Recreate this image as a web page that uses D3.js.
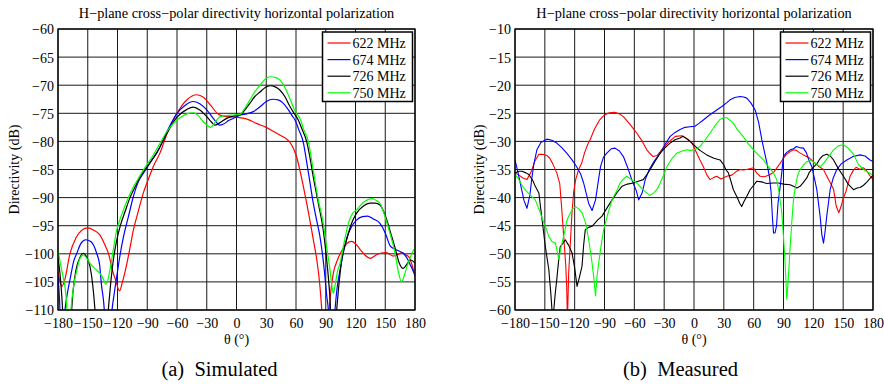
<!DOCTYPE html>
<html>
<head>
<meta charset="utf-8">
<script src="https://cdn.jsdelivr.net/npm/d3@7/dist/d3.min.js"></script>
<style>
  html, body { margin: 0; padding: 0; background: #fff; }
  svg { display: block; }
  text { font-family: "Liberation Serif", "Times New Roman", serif; fill: #000; }
</style>
</head>
<body>
<svg id="fig" width="884" height="384"></svg>
<script>
// ---- shared axis data ----
const angleTicks = [-180, -150, -120, -90, -60, -30, 0, 30, 60, 90, 120, 150, 180];
const simDbTicks = [-110, -105, -100, -95, -90, -85, -80, -75, -70, -65, -60];
const measDbTicks = [-60, -55, -50, -45, -40, -35, -30, -25, -20, -15, -10];
const freqLabels = ["622 MHz", "674 MHz", "726 MHz", "750 MHz"];
const seriesColors = ["#ff0000", "#0000ff", "#000000", "#00ff00"];

// ---- simulated directivity, [theta (deg), dB] ----
const sim622 = [[-180,-103.2],[-178,-105],[-176,-105.8],[-173,-104.5],[-168,-100],[-162,-97.2],[-156,-95.8],[-150,-95.4],[-144,-95.8],[-138,-96.6],[-133,-98.3],[-129,-100],[-125,-103],[-122,-104.6],[-118,-106.6],[-115,-105],[-112,-102.9],[-108,-99.5],[-104,-95.8],[-99,-92.4],[-94,-89.2],[-89,-86.8],[-84,-84.5],[-77,-82],[-70,-78.6],[-60,-75],[-50,-72.6],[-40,-71.7],[-33,-72.2],[-26,-73.6],[-18,-75.2],[-10,-75.6],[0,-75.7],[10,-76],[20,-76.8],[30,-77.5],[37,-78.2],[44,-78.9],[50,-79.5],[54,-80.2],[58,-81.5],[61,-83],[64,-85.2],[67.4,-88],[71,-91.2],[74,-94],[78,-98],[81,-101.1],[84,-105.5],[86,-110],[88,-116],[90,-120],[92,-115],[93.5,-110],[95.5,-106],[97.6,-103.5],[102,-101],[107,-99.2],[111,-98.2],[116,-97.8],[120,-98.2],[125,-99.3],[130,-100.3],[135,-100.8],[140,-100.3],[145,-99.9],[151,-99.8],[158,-100.4],[163,-100.1],[167,-99.8],[171,-100.2],[174,-100.6],[177,-102],[180,-104]];
const sim674 = [[-180,-104],[-178.5,-108],[-177,-114],[-175,-114],[-173,-110],[-170,-106.5],[-168,-104.7],[-164,-101.2],[-161,-99.9],[-157,-98.2],[-152,-97.5],[-147,-97.8],[-141,-99.9],[-138,-102],[-136,-105.8],[-134,-108.5],[-132.5,-112],[-130,-118],[-127,-114],[-126,-111],[-123.5,-107.3],[-120.8,-104.1],[-117.5,-100.3],[-114,-97],[-109,-93.4],[-104,-89.8],[-99,-87.2],[-94,-85.7],[-86,-83.5],[-77,-80.9],[-70,-78.2],[-60,-75],[-52,-73.6],[-44,-72.9],[-37,-73.3],[-30,-74.4],[-23,-76],[-17,-77.1],[-13,-76.9],[-8,-76.3],[-2,-75.8],[4,-75.3],[10,-75.1],[17,-74.7],[24,-73.8],[30,-72.9],[37,-72.5],[42,-72.6],[47,-73.2],[52,-74.3],[56,-75.4],[59,-76.2],[63,-78],[67.4,-80.2],[70.7,-83.6],[74,-87.2],[77.4,-91],[80.8,-94],[84.2,-97],[87,-100.5],[89.2,-104.1],[91,-107.5],[92.6,-110],[94.5,-118],[97,-116],[99.3,-110],[101.5,-106],[104.4,-102.9],[108,-99.6],[112.8,-96.4],[116,-95.2],[121,-94],[127,-93.4],[132,-93.3],[138,-93.8],[144.7,-94.6],[150,-96.3],[155,-98.6],[160,-99.2],[164,-99.5],[168,-99.9],[172,-100.8],[175,-101.9],[178,-103],[180,-103.8]];
const sim726 = [[-180,-100.8],[-178,-103.5],[-176,-108],[-174,-114],[-170,-118],[-167,-112],[-165,-107],[-162,-103],[-158,-100.7],[-154.5,-99.9],[-151,-100.6],[-147.7,-102.3],[-145,-105.5],[-142.7,-110],[-140,-118],[-133,-118],[-129.3,-110],[-127,-105.5],[-124.2,-101.1],[-121,-97.8],[-117.5,-95.2],[-112,-92.3],[-107.4,-90],[-102,-88],[-97.3,-86.3],[-89,-84.2],[-80.5,-82.1],[-70,-78.5],[-60,-75.7],[-50,-74.3],[-43.6,-73.9],[-37,-74.4],[-30,-75.6],[-25,-76.6],[-21.7,-77.1],[-17,-76.7],[-10,-75.9],[-3,-75.5],[3.5,-75.3],[8,-74.5],[13.6,-73.2],[18,-72.1],[23.7,-71.2],[29,-70.4],[33.8,-70.1],[39,-70.3],[43.9,-70.9],[49,-72.1],[53.9,-73.8],[58,-75],[62.3,-76.2],[66,-77.8],[70.7,-80],[74,-82.8],[77.4,-86.3],[82.5,-91],[87.5,-95.8],[90,-99.5],[92.6,-104.1],[94.3,-108],[96,-114],[99,-114],[101,-110],[103,-106],[106.1,-101.1],[111,-97.5],[116,-94.6],[121,-92.8],[128,-91.5],[134.6,-91],[140,-91],[144.7,-91.3],[150,-93.2],[155,-96],[160,-99],[164,-101.6],[168,-102.6],[172,-101.8],[175,-101.1],[178,-101.3],[180,-101.7]];
const sim750 = [[-180,-99.2],[-177.6,-101.7],[-175,-104],[-173,-105.8],[-171,-110],[-169.5,-118],[-167,-110],[-164,-105.5],[-161,-102.9],[-158,-100.9],[-154.5,-100.2],[-151,-100.8],[-147.7,-101.7],[-143,-102.6],[-137.6,-103.5],[-134,-104.6],[-131.9,-105.4],[-129.5,-104.5],[-127.6,-102.9],[-124,-99],[-120.8,-95.8],[-117,-93.6],[-114,-92.2],[-109,-90],[-104,-88.1],[-99,-86.6],[-94,-85.1],[-86,-83],[-77,-80.3],[-70,-78.2],[-63.7,-76.8],[-57,-75.8],[-50,-75.1],[-43.6,-74.9],[-38,-75.5],[-33.5,-76.5],[-29,-77.2],[-26,-77.5],[-22,-76.7],[-16.6,-75.6],[-10,-75.4],[-3,-75.3],[3.5,-75.2],[8,-74.2],[13.6,-72.6],[18,-71.3],[23.7,-70],[29,-68.9],[33.8,-68.5],[39,-68.6],[43.9,-69.1],[49,-70.5],[53.9,-72.4],[59,-74.6],[64.7,-76.2],[68,-78],[72.4,-80],[77.4,-85.1],[82,-90],[87.5,-94.6],[91,-99],[94.3,-102.9],[96,-105.5],[97.6,-107],[99.5,-105.5],[102,-103],[104.4,-101.7],[108,-98.5],[112.8,-94.6],[117,-92.8],[121,-92.2],[127,-91],[132,-90.4],[137,-90.2],[141,-90.5],[144.7,-91],[150,-93.5],[155,-96.5],[160,-100],[163,-103],[166.5,-105],[169,-104],[172,-102.2],[175,-100.8],[178,-99.5],[180,-99]];

// ---- measured directivity, [theta (deg), dB] ----
const meas622 = [[-180,-35.6],[-176,-36],[-172,-36.5],[-168,-36.8],[-164,-35.5],[-160,-33.5],[-156,-32.3],[-152,-32.3],[-148,-32.5],[-145,-33],[-142,-34],[-138,-35.6],[-135,-37.5],[-133,-42],[-131,-47],[-129,-52],[-128,-56],[-127.5,-60],[-127,-60],[-126,-53.3],[-124,-47],[-122.7,-42.7],[-121,-39],[-119,-36.8],[-116,-35],[-113,-33.9],[-110,-32],[-107,-30.6],[-104.5,-29.7],[-100,-27.8],[-95,-26.2],[-90,-25.3],[-85,-24.9],[-80,-24.8],[-75,-25.1],[-71,-25.6],[-66,-26.6],[-62,-27.5],[-57.6,-28.5],[-52,-30],[-47.5,-31.5],[-44,-32.2],[-41,-32.7],[-37,-32.5],[-32,-31.4],[-26,-30.2],[-18.7,-29.1],[-12,-29],[-6,-29.6],[-2,-30.3],[2.8,-32.1],[6,-33.3],[9.4,-34.5],[13,-36],[16.2,-36.8],[20,-36.4],[22.9,-36.2],[27,-36.7],[33,-36.2],[38,-36],[43,-35.3],[46.4,-35],[50,-35.1],[55,-34.9],[59.8,-34.7],[63,-35.6],[66.5,-36.2],[71,-36.3],[76.5,-35.9],[80,-35.5],[83,-34.8],[86.6,-33.9],[90,-33],[93,-32.3],[96.7,-31.8],[100,-31.5],[103,-31.6],[106,-32],[110,-32.4],[115,-32.8],[120.1,-33.6],[125,-34.4],[130.2,-35],[133,-36],[136,-37],[140.3,-38.5],[143,-41.5],[145.6,-42.7],[148,-41.5],[150,-40.2],[153,-38.8],[157,-36.2],[160,-35.2],[163,-34.6],[167.1,-35],[170,-34.7],[173,-35.1],[177.2,-36.2],[180,-36.8]];
const meas674 = [[-180,-33.3],[-177,-35.5],[-174,-38],[-171,-40.5],[-168,-41.9],[-165,-39.5],[-163,-36.5],[-161,-34],[-158,-31.5],[-154,-30.2],[-148,-29.6],[-143,-29.8],[-138,-30.3],[-133,-31.1],[-128,-32.1],[-123,-33.2],[-118,-34.5],[-114,-35.8],[-111,-37.4],[-108,-39.5],[-106,-41],[-102.5,-42.3],[-99,-40.4],[-96,-36.8],[-94,-34.5],[-91,-32.8],[-87.7,-32.1],[-83,-31.3],[-79.4,-31.2],[-75,-31.7],[-71,-32.7],[-67,-34.5],[-62.6,-36.8],[-58,-38.8],[-55.6,-40.4],[-52.2,-39.2],[-49,-36.8],[-45,-35],[-40,-33.5],[-34,-32.1],[-29,-30.5],[-24,-29.1],[-19,-28.4],[-14,-27.9],[-9,-27.5],[-4,-27.4],[1,-27.3],[5,-26.8],[9.4,-26.2],[15,-25.4],[22.9,-24.4],[28,-23.8],[33,-23.1],[36.3,-22.6],[41,-22.2],[46.4,-22],[50,-22.1],[53.1,-22.3],[57,-23.1],[61.5,-24.4],[65,-26.6],[68.2,-29.7],[71,-32],[73.5,-34],[76,-36.5],[77.5,-39],[79,-44],[80,-46.3],[81.5,-46.3],[83,-45],[84.5,-41],[86,-39],[88,-36],[89.9,-32.7],[93,-32],[96.7,-31.5],[100,-31.3],[103,-30.9],[106,-31.1],[110,-31.2],[113,-32],[115.4,-33.3],[118.5,-34.5],[121,-36.5],[123.5,-38.6],[126.8,-43.3],[128.5,-46.5],[130.2,-48.1],[131.5,-46.5],[133.5,-43.3],[136.9,-38.6],[140,-36.5],[143.6,-35],[148,-34],[153.7,-33.3],[160,-32.7],[167,-32.4],[172,-32.6],[177,-33.3],[180,-33.6]];
const meas726 = [[-180,-35.6],[-176,-35.3],[-173,-35.3],[-169,-35.6],[-166,-35.9],[-162,-37],[-159.6,-38],[-156,-39.2],[-152.8,-43.9],[-149.5,-48.7],[-146,-52.8],[-144,-57],[-142.8,-60],[-141,-60],[-139.5,-57],[-138,-54.6],[-136,-51],[-134.5,-48.7],[-132,-48.2],[-129.5,-47.5],[-126,-48.5],[-122.7,-49.8],[-120,-52.5],[-117.6,-55.8],[-115,-54],[-112.6,-52.2],[-111,-48.5],[-109.3,-45.7],[-106,-45.3],[-102.5,-45.1],[-97,-44],[-92.5,-43.3],[-87,-41.7],[-82.4,-40.4],[-77,-39],[-72.4,-38],[-67,-37.6],[-61,-37.4],[-56,-37.1],[-51,-36.8],[-47,-35.8],[-44,-35],[-39,-33.5],[-34,-32.1],[-29,-31.1],[-24,-30.3],[-19,-29.7],[-14,-29.4],[-11,-29.1],[-7,-29.6],[-4,-30],[1.4,-30.9],[6,-31.6],[12.8,-32.4],[20,-33],[26.2,-33.3],[30,-34.2],[32,-35],[34.6,-35.6],[37,-37],[39.6,-38.6],[43,-39.8],[46,-41],[48,-41.6],[50,-40.8],[53,-39.8],[56.4,-38.6],[60,-37.8],[63,-37.1],[68,-37.2],[73,-37.5],[79.8,-37.4],[85,-37.4],[90,-37.6],[96.7,-37.7],[100,-38],[103.4,-38.3],[106.7,-38],[110,-37.3],[113.4,-36.5],[116,-35.5],[119,-34.8],[123.5,-34],[127,-33],[130,-32.5],[133.5,-32.3],[137,-32.6],[140.3,-33.3],[145,-34.8],[150.3,-36.2],[155,-37.6],[160.4,-38.6],[164,-38.3],[167,-38.2],[170.5,-37.8],[174,-37.2],[178.9,-36.2],[180,-36.1]];
const meas750 = [[-180,-35.9],[-177,-36.5],[-174,-37.5],[-170,-38.6],[-165,-39.5],[-159.6,-40.4],[-155,-42.5],[-151,-44.5],[-148,-45.8],[-146,-46.9],[-143,-47.8],[-139.4,-48.1],[-137,-50],[-136,-51],[-134.5,-49.5],[-132.7,-48.1],[-130,-46],[-128,-44.2],[-126,-43.3],[-122,-42],[-119.3,-41.6],[-116,-42],[-112.6,-42.7],[-109,-44.5],[-105.9,-47.5],[-103,-51],[-100.9,-54],[-99,-57.5],[-97.5,-54],[-95.8,-51.6],[-93,-48],[-90.8,-45.7],[-86,-42.5],[-82.4,-40.4],[-77,-38.5],[-74.4,-37.4],[-70,-36.5],[-67.6,-36.2],[-63,-36.8],[-57.6,-37.4],[-52,-38.5],[-47.5,-39.2],[-44,-39.6],[-40.8,-39.2],[-37,-38.5],[-34,-37.4],[-30,-35.8],[-27.4,-34.5],[-22,-33],[-17.3,-32.1],[-12,-31.7],[-7.3,-31.5],[-3,-31.6],[1.4,-31.4],[6.1,-30.9],[11,-29.8],[16.2,-28.5],[22,-27],[26,-26.1],[29.6,-25.8],[33,-25.8],[36,-26.2],[39.6,-26.8],[44,-28],[49.7,-29.2],[54,-30.3],[59.8,-31.5],[64,-32.3],[69.8,-33.3],[74,-34.3],[79.9,-35.6],[83.2,-36.8],[85.5,-39],[88.3,-42.7],[90,-47],[91.6,-51.6],[93.3,-58.1],[95,-54],[96.7,-48.7],[98.5,-44],[100,-40.4],[102,-38],[104,-36.2],[106.7,-35],[110,-34.2],[113.4,-33.6],[118,-33.4],[123,-34],[127,-34.5],[130.2,-33.9],[135,-32.8],[140.3,-31.5],[145,-30.8],[150.3,-30.6],[155,-31.2],[160.4,-32.3],[165,-34],[170.5,-35],[175,-35.5],[178.9,-35.9],[180,-35.9]];

const simSeries = [sim622, sim674, sim726, sim750];
const measSeries = [meas622, meas674, meas726, meas750];

const svg = d3.select("#fig");
const FONT = 14;

function drawPanel(cfg) {
  const { left, right, top, bottom, yTicks, series, curve, lineWidth, id, caption, captionX, legendX, ylabelX } = cfg;
  const x = d3.scaleLinear().domain([-180, 180]).range([left, right]);
  const y = d3.scaleLinear().domain([d3.min(yTicks), d3.max(yTicks)]).range([bottom, top]);
  const g = svg.append("g");

  // grid
  g.append("g").selectAll("line").data(angleTicks).join("line")
    .attr("x1", d => x(d)).attr("x2", d => x(d))
    .attr("y1", top).attr("y2", bottom)
    .attr("stroke", "#1a1a1a").attr("stroke-width", 1);
  g.append("g").selectAll("line").data(yTicks).join("line")
    .attr("x1", left).attr("x2", right)
    .attr("y1", d => y(d)).attr("y2", d => y(d))
    .attr("stroke", "#1a1a1a").attr("stroke-width", 1);

  // axes (labels only; grid serves as ticks)
  const xAxis = d3.axisBottom(x).tickValues(angleTicks).tickSize(0).tickPadding(5).tickFormat(d3.format("d"));
  const yAxis = d3.axisLeft(y).tickValues(yTicks).tickSize(0).tickPadding(4).tickFormat(d3.format("d"));
  const gx = g.append("g").attr("transform", `translate(0,${bottom})`).call(xAxis);
  const gy = g.append("g").attr("transform", `translate(${left},0)`).call(yAxis);
  [gx, gy].forEach(a => {
    a.select(".domain").remove();
    a.selectAll("text").attr("font-size", FONT).attr("font-family", "Liberation Serif");
  });
  gx.selectAll("text").attr("dy", "0.9em");
  gy.selectAll("text").attr("dy", "0.35em");

  // curves
  const clipId = "clip-" + id;
  svg.append("clipPath").attr("id", clipId).append("rect")
    .attr("x", left).attr("y", top).attr("width", right - left).attr("height", bottom - top);
  const line = d3.line().x(d => x(d[0])).y(d => y(d[1])).curve(curve);
  g.append("g").attr("clip-path", `url(#${clipId})`)
    .selectAll("path").data(series).join("path")
    .attr("d", line)
    .attr("fill", "none")
    .attr("stroke", (d, i) => seriesColors[i])
    .attr("stroke-width", lineWidth)
    .attr("stroke-linejoin", "round");

  // frame
  g.append("rect").attr("x", left).attr("y", top)
    .attr("width", right - left).attr("height", bottom - top)
    .attr("fill", "none").attr("stroke", "#000").attr("stroke-width", 1.3);

  // title
  g.append("text").attr("x", (left + right) / 2).attr("y", 18)
    .attr("text-anchor", "middle").attr("font-size", 14.3).text("H\u2212plane cross\u2212polar directivity horizontal polarization");

  // axis titles
  g.append("text").attr("x", (left + right) / 2).attr("y", 343.5)
    .attr("text-anchor", "middle").attr("font-size", FONT).text("\u03b8 (\u00b0)");
  g.append("text")
    .attr("transform", `translate(${ylabelX},${(top + bottom) / 2}) rotate(-90)`)
    .attr("dy", "0.35em")
    .attr("text-anchor", "middle").attr("font-size", FONT).text("Directivity (dB)");

  // legend
  const lx = legendX, ly = 32, lw = 90, lh = 69.5;
  const lg = g.append("g");
  lg.append("rect").attr("x", lx).attr("y", ly).attr("width", lw).attr("height", lh)
    .attr("fill", "#fff").attr("stroke", "#000").attr("stroke-width", 1.5);
  freqLabels.forEach((lab, i) => {
    const yy = ly + 11 + i * 16.6;
    lg.append("line").attr("x1", lx + 5).attr("x2", lx + 28).attr("y1", yy).attr("y2", yy)
      .attr("stroke", seriesColors[i]).attr("stroke-width", 1.2);
    lg.append("text").attr("x", lx + 30).attr("y", yy).attr("dy", "0.35em")
      .attr("font-size", FONT).text(lab);
  });

  // caption
  g.append("text").attr("x", captionX).attr("y", 376)
    .attr("text-anchor", "middle").attr("font-size", 20.5)
    .attr("xml:space", "preserve").text(caption);
}

drawPanel({
  id: "sim", left: 58, right: 415, top: 29, bottom: 310,
  yTicks: simDbTicks, series: simSeries, curve: d3.curveMonotoneX, lineWidth: 1.2,
  caption: "(a)  Simulated", captionX: 219.5, legendX: 322.5, ylabelX: 14
});
drawPanel({
  id: "meas", left: 515, right: 873, top: 29, bottom: 310,
  yTicks: measDbTicks, series: measSeries, curve: d3.curveLinear, lineWidth: 1.1,
  caption: "(b)  Measured", captionX: 680.5, legendX: 780.5, ylabelX: 479
});
</script>
</body>
</html>
